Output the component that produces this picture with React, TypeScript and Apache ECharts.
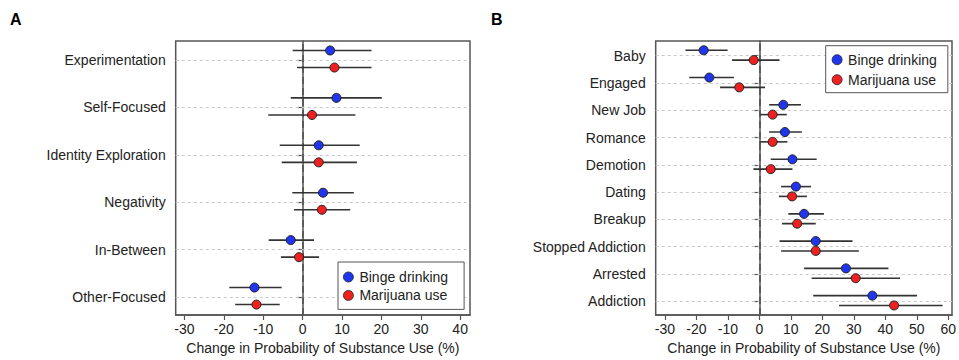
import React, { useEffect, useRef } from "react";
import * as echarts from "echarts";

// Panel A
const catsA = ["Experimentation", "Self-Focused", "Identity Exploration", "Negativity", "In-Between", "Other-Focused"];
const bingeA = [7.0, 8.6, 4.1, 5.2, -3.0, -12.2];
const bingeALo = [-2.5, -3.0, -5.8, -2.6, -8.6, -18.6];
const bingeAHi = [17.5, 20.1, 14.5, 13.0, 2.9, -5.3];
const marijA = [8.1, 2.4, 4.1, 4.9, -0.9, -11.7];
const marijALo = [-1.4, -8.7, -5.3, -2.2, -5.5, -17.1];
const marijAHi = [17.5, 13.4, 13.8, 12.1, 4.2, -5.8];
const ticksA = [-30, -20, -10, 0, 10, 20, 30, 40];

// Panel B
const catsB = ["Baby", "Engaged", "New Job", "Romance", "Demotion", "Dating", "Breakup", "Stopped Addiction", "Arrested", "Addiction"];
const bingeB = [-17.7, -15.9, 7.6, 8.1, 10.5, 11.6, 14.2, 17.9, 27.5, 35.9];
const bingeBLo = [-23.5, -22.3, 3.1, 3.1, 3.6, 6.9, 9.2, 6.4, 14.2, 17.1];
const bingeBHi = [-10.1, -8.1, 13.2, 13.5, 18.2, 16.4, 20.5, 29.6, 41.0, 50.1];
const marijB = [-1.8, -6.4, 4.2, 4.2, 3.6, 10.4, 12.0, 17.9, 30.6, 42.8];
const marijBLo = [-8.7, -12.5, 0.2, 0.0, -1.9, 6.2, 7.2, 6.9, 16.6, 25.3];
const marijBHi = [6.4, 1.8, 8.7, 8.9, 10.5, 15.1, 17.9, 31.6, 44.7, 58.2];
const ticksB = [-30, -20, -10, 0, 10, 20, 30, 40, 50, 60];

const seriesNames = ["Binge drinking", "Marijuana use"];
const xTitle = "Change in Probability of Substance Use (%)";

const BLUE = "#1f35ee";
const RED = "#ee2020";
const FONT = "'Liberation Sans', Arial, Helvetica, sans-serif";
const TXT = "#222";
const AX = "#555";

const OFF_B = 0.2;
const OFF_M = -0.16;

function pos(n: number) {
  return Array.from({ length: n }, (_, i) => n - i);
}

function errSeries(idx: number, lo: number[], hi: number[], n: number, off: number) {
  const p = pos(n);
  return {
    type: "custom",
    xAxisIndex: idx,
    yAxisIndex: idx,
    z: 2,
    silent: true,
    encode: { x: [0, 1], y: 2 },
    data: lo.map((l, i) => [l, hi[i], p[i] + off]),
    renderItem: (params: any, api: any) => {
      const a = api.coord([api.value(0), api.value(2)]);
      const b = api.coord([api.value(1), api.value(2)]);
      return {
        type: "line",
        shape: { x1: a[0], y1: a[1], x2: b[0], y2: b[1] },
        style: { stroke: "#333", lineWidth: 1.6 },
      };
    },
  };
}

function dotSeries(idx: number, name: string, vals: number[], n: number, off: number, color: string, withMarks: boolean) {
  const p = pos(n);
  const s: any = {
    type: "scatter",
    name,
    xAxisIndex: idx,
    yAxisIndex: idx,
    z: 3,
    symbol: "circle",
    symbolSize: 9,
    itemStyle: { color, borderColor: "#222", borderWidth: 1, opacity: 1 },
    data: vals.map((v, i) => [v, p[i] + off]),
  };
  if (withMarks) {
    s.markLine = {
      silent: true,
      symbol: ["none", "none"],
      label: { show: false },
      z: 1,
      data: [
        ...p.map((y) => ({ yAxis: y, lineStyle: { color: "#c8c8c8", type: [3, 3], width: 1 } })),
        { xAxis: 0, lineStyle: { color: "#555", type: [7, 4], width: 1.7 } },
      ],
    };
  }
  return s;
}

function xAxisDef(idx: number, min: number, max: number, ticks: number[]) {
  return {
    type: "value",
    gridIndex: idx,
    min,
    max,
    name: xTitle,
    nameLocation: "middle",
    nameGap: 23,
    nameTextStyle: { fontFamily: FONT, fontSize: 14, color: TXT },
    axisLine: { show: true, lineStyle: { color: AX, width: 1.5 } },
    axisTick: { show: true, length: 5, customValues: ticks, lineStyle: { color: AX, width: 1.2 } },
    axisLabel: { customValues: ticks, fontFamily: FONT, fontSize: 14, color: TXT, margin: 7 },
    splitLine: { show: false },
  };
}

function yAxisDef(idx: number, min: number, max: number, cats: string[]) {
  const n = cats.length;
  const p = pos(n);
  return {
    type: "value",
    gridIndex: idx,
    min,
    max,
    axisLine: { show: true, lineStyle: { color: AX, width: 1.5 } },
    axisTick: { show: true, length: 5, customValues: p, lineStyle: { color: AX, width: 1.2 } },
    axisLabel: {
      customValues: p,
      fontFamily: FONT,
      fontSize: 14,
      color: TXT,
      margin: 10,
      formatter: (v: number) => cats[n - Math.round(v)] ?? "",
    },
    splitLine: { show: false },
  };
}

export default function App() {
  const ref = useRef<HTMLDivElement>(null);
  useEffect(() => {
    if (!ref.current) return;
    const chart = echarts.init(ref.current, undefined, { renderer: "svg" });
    const nA = catsA.length;
    const nB = catsB.length;
    const legendBase = {
      data: seriesNames,
      orient: "vertical",
      itemWidth: 12,
      itemHeight: 10,
      borderColor: "#555",
      borderWidth: 1,
      backgroundColor: "#fff",
      itemStyle: { borderWidth: 0.8, borderColor: "#222" },
      textStyle: { fontFamily: FONT, fontSize: 14, color: TXT },
    };
    const option: any = {
      animation: false,
      backgroundColor: "#fff",
      grid: [
        { left: 175.7, top: 41, width: 294.3, height: 274, show: true, borderColor: AX, borderWidth: 1.5, backgroundColor: "transparent", outerBoundsMode: "none" },
        { left: 655.7, top: 41, width: 296.3, height: 274, show: true, borderColor: AX, borderWidth: 1.5, backgroundColor: "transparent", outerBoundsMode: "none" },
      ],
      xAxis: [xAxisDef(0, -32.2, 42.5, ticksA), xAxisDef(1, -32.95, 61.2, ticksB)],
      yAxis: [yAxisDef(0, 0.62, 6.4, catsA), yAxisDef(1, 0.49, 10.54, catsB)],
      legend: [
        { ...legendBase, left: 338, top: 262, padding: [8, 16, 7, 5], itemGap: 4.4 },
        { ...legendBase, left: 825.7, top: 45.7, padding: [7, 11, 6, 6], itemGap: 6 },
      ],
      graphic: [
        { type: "text", left: 10, top: 11, style: { text: "A", font: `bold 16px ${FONT}`, fill: "#000" } },
        { type: "text", left: 491, top: 11, style: { text: "B", font: `bold 16px ${FONT}`, fill: "#000" } },
      ],
      series: [
        errSeries(0, bingeALo, bingeAHi, nA, OFF_B),
        errSeries(0, marijALo, marijAHi, nA, OFF_M),
        dotSeries(0, seriesNames[0], bingeA, nA, OFF_B, BLUE, true),
        dotSeries(0, seriesNames[1], marijA, nA, OFF_M, RED, false),
        errSeries(1, bingeBLo, bingeBHi, nB, OFF_B),
        errSeries(1, marijBLo, marijBHi, nB, OFF_M),
        dotSeries(1, seriesNames[0], bingeB, nB, OFF_B, BLUE, true),
        dotSeries(1, seriesNames[1], marijB, nB, OFF_M, RED, false),
      ],
    };
    chart.setOption(option);
    return () => chart.dispose();
  }, []);
  return (
    <div
      ref={ref}
      style={{ position: "absolute", left: 0, top: 0, width: 959, height: 360, background: "#fff" }}
    />
  );
}
